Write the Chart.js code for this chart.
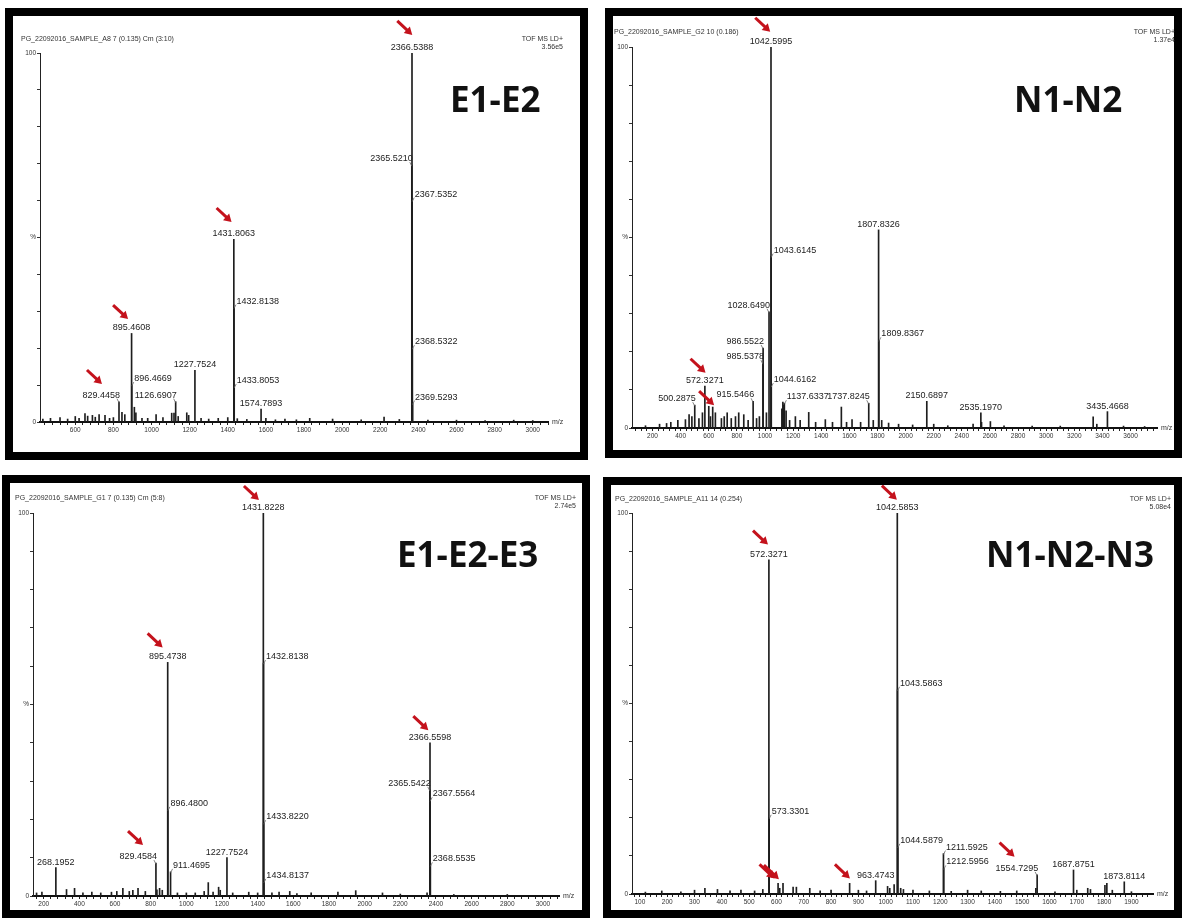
<!DOCTYPE html>
<html>
<head>
<meta charset="utf-8">
<title>MALDI-TOF spectra</title>
<script src="https://cdn.jsdelivr.net/npm/chart.js@4.4.0/dist/chart.umd.min.js"></script>
<style>
  body { margin: 0; width: 1182px; height: 919px; position: relative; overflow: hidden; background: #fff;
         font-family: "Liberation Sans", Arial, sans-serif; }
  .panel { position: absolute; box-sizing: border-box; border: 8px solid #000; background: #fff; }
  .panel canvas { position: absolute; left: 0; top: 0; }
  .hdr { position: absolute; font-size: 7px; line-height: 8px; color: #333; white-space: nowrap; }
  .tof { position: absolute; font-size: 7px; line-height: 8px; color: #333; white-space: nowrap; text-align: right; }
  .big { position: absolute; font-family: "Open Sans", sans-serif; font-weight: 700; font-size: 35px;
         line-height: 35px; color: #111; white-space: nowrap; }
</style>
</head>
<body>
<script>
// ---- E1-E2 ----
const e12PeakMz = [829.4458, 895.4608, 896.4669, 1126.6907, 1227.7524, 1431.8063, 1432.8138, 1433.8053, 1574.7893, 2365.5210, 2366.5388, 2367.5352, 2368.5322, 2369.5293];
const e12PeakInt = [5.5, 24, 10, 5.5, 14, 49.5, 31, 9.5, 3.5, 69.6, 100, 60, 20, 5];
const e12NoiseMz = [430, 470, 520, 560, 600, 620, 651, 665, 690, 705, 725, 756, 780, 800, 845, 860, 910, 918, 950, 980, 1024, 1060, 1106, 1118, 1140, 1185, 1195, 1260, 1300, 1350, 1400, 1450, 1500, 1600, 1650, 1700, 1760, 1830, 1950, 2100, 2220, 2300, 2450, 2600, 2750, 2900, 3000];
const e12NoiseInt = [0.8, 1, 1.2, 0.8, 1.5, 1, 2.3, 1.6, 1.8, 1.3, 2, 1.8, 1, 1.2, 2.6, 2, 4, 2.5, 1, 1, 2, 1.2, 2.4, 2.4, 1.5, 2.5, 1.8, 1, 0.8, 1, 1.2, 0.9, 0.7, 1, 0.6, 0.8, 0.6, 1, 0.8, 0.6, 1.3, 0.7, 0.5, 0.5, 0.4, 0.5, 0.4];
const e12ArrowMz = [2368, 1420, 877, 740];
const e12ArrowInt = [104.9, 54.2, 27.9, 10.3];
const e12XTicks = [600, 800, 1000, 1200, 1400, 1600, 1800, 2000, 2200, 2400, 2600, 2800, 3000];

// ---- N1-N2 ----
const n12PeakMz = [500.2875, 572.3271, 915.5466, 985.5378, 986.5522, 1028.6490, 1042.5995, 1043.6145, 1044.6162, 1137.6337, 1737.8245, 1807.8326, 1809.8367, 2150.6897, 2535.1970, 3435.4668];
const n12PeakInt = [6, 11, 7, 17, 21, 30.5, 100, 45, 11, 6.5, 6.5, 52, 23, 7, 4, 4.3];
const n12NoiseMz = [150, 250, 300, 330, 380, 434, 460, 480, 530, 555, 600, 612, 628, 647, 690, 710, 731, 760, 790, 813, 849, 880, 940, 960, 1010, 1120, 1127, 1131, 1150, 1175, 1216, 1250, 1311, 1360, 1429, 1480, 1543, 1580, 1619, 1680, 1770, 1830, 1879, 1950, 2050, 2200, 2300, 2480, 2540, 2603, 2700, 2900, 3100, 3334, 3360, 3550, 3700];
const n12NoiseInt = [0.6, 1, 1.2, 1.5, 2, 2.2, 3.5, 3, 2.5, 4, 5.7, 3, 5.5, 4, 2.5, 3, 4, 2.5, 3, 4, 3.5, 2, 2.5, 3, 4, 5, 6.8, 6, 4.5, 2, 3, 2, 4.1, 1.5, 2.2, 1.5, 5.5, 1.5, 2.2, 1.5, 2, 2, 1.3, 1, 0.8, 1, 0.6, 1, 1.5, 1.7, 0.6, 0.5, 0.5, 2.9, 1, 0.5, 0.4];
const n12ArrowMz = [1037, 577, 638];
const n12ArrowInt = [104, 14.5, 6];
const n12XTicks = [200, 400, 600, 800, 1000, 1200, 1400, 1600, 1800, 2000, 2200, 2400, 2600, 2800, 3000, 3200, 3400, 3600];

// ---- E1-E2-E3 ----
const e123PeakMz = [268.1952, 829.4584, 895.4738, 896.4800, 911.4695, 1227.7524, 1431.8228, 1432.8138, 1433.8220, 1434.8137, 2365.5422, 2366.5598, 2367.5564, 2368.5535];
const e123PeakInt = [7.4, 8.6, 61, 22.5, 6.3, 10, 100, 60.8, 19, 3.7, 27.7, 40, 25, 8];
const e123NoiseMz = [160, 190, 328, 373, 420, 470, 520, 580, 610, 644, 680, 700, 729, 770, 835, 850, 865, 950, 1000, 1050, 1100, 1123, 1150, 1181, 1190, 1260, 1350, 1400, 1480, 1520, 1580, 1620, 1700, 1850, 1950, 2100, 2200, 2350, 2500, 2800];
const e123NoiseInt = [0.8, 1, 1.7, 2, 0.8, 1, 0.8, 1, 1.2, 2, 1.2, 1.5, 2, 1.2, 1.6, 2, 1.5, 0.8, 0.8, 0.8, 1.2, 3.5, 1, 2.3, 1.5, 0.8, 1, 0.8, 0.8, 1, 1.2, 0.6, 0.8, 1, 1.4, 0.8, 0.5, 0.8, 0.4, 0.4];
const e123ArrowMz = [1407, 867, 757, 2357];
const e123ArrowInt = [103.4, 64.9, 13.3, 43.3];
const e123XTicks = [200, 400, 600, 800, 1000, 1200, 1400, 1600, 1800, 2000, 2200, 2400, 2600, 2800, 3000];

// ---- N1-N2-N3 ----
const n123PeakMz = [572.3271, 573.3301, 963.4743, 1042.5853, 1043.5863, 1044.5879, 1211.5925, 1212.5956, 1554.7295, 1687.8751, 1873.8114];
const n123PeakInt = [87.7, 20, 3.5, 100, 53.6, 12.4, 10.6, 6.7, 5, 6.3, 3.2];
const n123NoiseMz = [120, 180, 250, 300, 338, 384, 430, 470, 520, 550, 606, 612, 624, 661, 673, 722, 760, 800, 868, 900, 930, 1007, 1015, 1031, 1055, 1065, 1100, 1160, 1240, 1300, 1350, 1420, 1480, 1550, 1620, 1700, 1740, 1750, 1803, 1810, 1830, 1900];
const n123NoiseInt = [0.5, 0.8, 0.6, 1, 1.5, 1.2, 0.8, 1, 0.8, 1.2, 2.8, 1.5, 2.8, 1.8, 1.8, 1.5, 0.8, 1, 2.8, 1, 0.8, 2, 1.5, 2.5, 1.5, 1.2, 1, 0.8, 0.7, 1, 0.8, 0.7, 0.8, 1.5, 0.6, 1, 1.5, 1.2, 2.3, 2.8, 1, 0.6];
const n123ArrowMz = [1041, 569, 593, 609, 869, 1472];
const n123ArrowInt = [103.5, 91.7, 4.1, 3.9, 4.1, 9.8];
const n123XTicks = [100, 200, 300, 400, 500, 600, 700, 800, 900, 1000, 1100, 1200, 1300, 1400, 1500, 1600, 1700, 1800, 1900];

const yTickValues = [0, 50, 100];
const yTickText = ['0', '%', '100'];

const BORDER = 8;
const Y_AXIS_W = 16;
const X_AXIS_H = 14;

// layout per panel: box = outer frame, plot = chart area in page px, side = label placement
const panels = [
  { name: 'E1-E2', box: [5, 8, 583, 452], plot: [40, 53, 548, 422], range: [415, 3080], step: 40,
    peakMz: e12PeakMz, peakInt: e12PeakInt, noiseMz: e12NoiseMz, noiseInt: e12NoiseInt,
    arrowMz: e12ArrowMz, arrowInt: e12ArrowInt, xTicks: e12XTicks,
    side: ['l', 'c', 'r', 'l', 'c', 'c', 'r', 'r', 'c', 'l', 'c', 'r', 'r', 'r'],
    header: 'PG_22092016_SAMPLE_A8 7 (0.135) Cm (3:10)', hdrAt: [21, 35],
    tof: '3.56e5', tofAt: [563, 35], bigAt: [450, 81] },
  { name: 'N1-N2', box: [605, 8, 577, 450], plot: [632, 47, 1157, 428], range: [54, 3788], step: 40,
    peakMz: n12PeakMz, peakInt: n12PeakInt, noiseMz: n12NoiseMz, noiseInt: n12NoiseInt,
    arrowMz: n12ArrowMz, arrowInt: n12ArrowInt, xTicks: n12XTicks,
    side: ['l', 'c', 'l', 'l', 'l', 'l', 'c', 'r', 'r', 'r', 'l', 'c', 'r', 'c', 'c', 'c'],
    header: 'PG_22092016_SAMPLE_G2 10 (0.186)', hdrAt: [614, 28],
    tof: '1.37e4', tofAt: [1175, 27.5], bigAt: [1014, 81] },
  { name: 'E1-E2-E3', box: [2, 475, 588, 443], plot: [33, 513, 559, 896], range: [140, 3090], step: 40,
    peakMz: e123PeakMz, peakInt: e123PeakInt, noiseMz: e123NoiseMz, noiseInt: e123NoiseInt,
    arrowMz: e123ArrowMz, arrowInt: e123ArrowInt, xTicks: e123XTicks,
    side: ['c', 'l', 'c', 'r', 'r', 'c', 'c', 'r', 'r', 'r', 'l', 'c', 'r', 'r'],
    header: 'PG_22092016_SAMPLE_G1 7 (0.135) Cm (5:8)', hdrAt: [15, 494],
    tof: '2.74e5', tofAt: [576, 494], bigAt: [397, 536] },
  { name: 'N1-N2-N3', box: [603, 477, 579, 441], plot: [632, 513, 1153, 894], range: [71, 1979], step: 20,
    peakMz: n123PeakMz, peakInt: n123PeakInt, noiseMz: n123NoiseMz, noiseInt: n123NoiseInt,
    arrowMz: n123ArrowMz, arrowInt: n123ArrowInt, xTicks: n123XTicks,
    side: ['c', 'r', 'c', 'c', 'r', 'r', 'r', 'r', 'l', 'c', 'c'],
    header: 'PG_22092016_SAMPLE_A11 14 (0.254)', hdrAt: [615, 495],
    tof: '5.08e4', tofAt: [1171, 494.5], bigAt: [986, 536] }
];

// peak labels, red arrows and the m/z caption, placed through the chart scales
function notesPlugin(p) {
  return {
    id: 'notes',
    afterDraw(chart) {
      const ctx = chart.ctx;
      const xs = chart.scales.x, ys = chart.scales.y;
      ctx.save();
      ctx.font = '9px "Liberation Sans", Arial, sans-serif';
      ctx.fillStyle = '#222';
      ctx.strokeStyle = '#666';
      ctx.lineWidth = 0.8;
      ctx.textBaseline = 'alphabetic';
      p.peakMz.forEach((mz, i) => {
        const px = xs.getPixelForValue(mz);
        const py = ys.getPixelForValue(p.peakInt[i]);
        const text = mz.toFixed(4);
        const side = p.side[i];
        if (side === 'c') {
          ctx.textAlign = 'center';
          ctx.fillText(text, px, py - 3);
        } else {
          const d = side === 'r' ? 1 : -1;
          ctx.beginPath();
          ctx.moveTo(px, py + 1);
          ctx.lineTo(px + 2 * d, py - 3);
          ctx.stroke();
          ctx.textAlign = side === 'r' ? 'left' : 'right';
          ctx.fillText(text, side === 'r' ? px + 2.5 : px + 1, py - 4);
        }
      });

      ctx.strokeStyle = '#c4121c';
      ctx.fillStyle = '#c4121c';
      p.arrowMz.forEach((mz, i) => {
        const tx = xs.getPixelForValue(mz);
        const ty = ys.getPixelForValue(p.arrowInt[i]);
        const ang = Math.atan2(14, 15);
        const hx = tx - 6 * Math.cos(ang), hy = ty - 6 * Math.sin(ang);
        ctx.lineWidth = 3;
        ctx.beginPath();
        ctx.moveTo(tx - 15, ty - 14);
        ctx.lineTo(hx, hy);
        ctx.stroke();
        ctx.beginPath();
        ctx.moveTo(tx, ty);
        ctx.lineTo(hx + 4.5 * Math.sin(ang) - 1.5 * Math.cos(ang), hy - 4.5 * Math.cos(ang) - 1.5 * Math.sin(ang));
        ctx.lineTo(hx - 4.5 * Math.sin(ang) - 1.5 * Math.cos(ang), hy + 4.5 * Math.cos(ang) - 1.5 * Math.sin(ang));
        ctx.closePath();
        ctx.fill();
      });

      ctx.fillStyle = '#333';
      ctx.font = '7px "Liberation Sans", Arial, sans-serif';
      ctx.textAlign = 'left';
      ctx.textBaseline = 'middle';
      ctx.fillText('m/z', chart.chartArea.right + 4, chart.chartArea.bottom);
      ctx.restore();
    }
  };
}

function addText(cls, text, left, top, alignRight) {
  const el = document.createElement('div');
  el.className = cls;
  el.innerHTML = text;
  el.style.top = top + 'px';
  if (alignRight) el.style.right = (1182 - left) + 'px';
  else el.style.left = left + 'px';
  document.body.appendChild(el);
}

panels.forEach(p => {
  const box = document.createElement('div');
  box.className = 'panel';
  box.style.left = p.box[0] + 'px';
  box.style.top = p.box[1] + 'px';
  box.style.width = p.box[2] + 'px';
  box.style.height = p.box[3] + 'px';
  document.body.appendChild(box);

  const ix = p.box[0] + BORDER, iy = p.box[1] + BORDER;
  const iw = p.box[2] - 2 * BORDER, ih = p.box[3] - 2 * BORDER;
  const cv = document.createElement('canvas');
  cv.width = iw;
  cv.height = ih;
  box.appendChild(cv);

  const sticks = p.peakMz.map((x, i) => ({ x: x, y: p.peakInt[i] }))
    .concat(p.noiseMz.map((x, i) => ({ x: x, y: p.noiseInt[i] })));

  new Chart(cv, {
    type: 'bar',
    data: {
      datasets: [{
        data: sticks,
        backgroundColor: '#1e1e1e',
        borderWidth: 0,
        barThickness: 1
      }]
    },
    options: {
      responsive: false,
      animation: false,
      devicePixelRatio: 1,
      layout: {
        padding: {
          left: p.plot[0] - ix - Y_AXIS_W,
          top: p.plot[1] - iy,
          right: ix + iw - p.plot[2],
          bottom: iy + ih - p.plot[3] - X_AXIS_H
        }
      },
      plugins: { legend: { display: false }, tooltip: { enabled: false } },
      scales: {
        x: {
          type: 'linear',
          offset: false,
          min: p.range[0],
          max: p.range[1],
          afterFit(s) { s.height = X_AXIS_H; },
          border: { color: '#111', width: 2 },
          grid: { offset: false, drawOnChartArea: false, drawTicks: true, tickLength: 3, color: '#222' },
          ticks: {
            stepSize: p.step,
            autoSkip: false,
            includeBounds: false,
            maxRotation: 0,
            padding: 1,
            color: '#333',
            font: { size: 6.5, family: '"Liberation Sans", Arial, sans-serif' },
            callback: v => (p.xTicks.includes(v) ? String(v) : '')
          }
        },
        y: {
          min: 0,
          max: 100,
          afterFit(s) { s.width = Y_AXIS_W; },
          border: { color: '#222', width: 1 },
          grid: { drawOnChartArea: false, drawTicks: true, tickLength: 3, color: '#333' },
          ticks: {
            stepSize: 10,
            autoSkip: false,
            padding: 1,
            color: '#333',
            font: { size: 6.5, family: '"Liberation Sans", Arial, sans-serif' },
            callback: v => {
              const k = yTickValues.indexOf(v);
              return k >= 0 ? yTickText[k] : '';
            }
          }
        }
      }
    },
    plugins: [notesPlugin(p)]
  });

  addText('hdr', p.header, p.hdrAt[0], p.hdrAt[1], false);
  addText('tof', 'TOF MS LD+<br>' + p.tof, p.tofAt[0], p.tofAt[1], true);
  addText('big', p.name, p.bigAt[0], p.bigAt[1], false);
});
</script>
</body>
</html>
